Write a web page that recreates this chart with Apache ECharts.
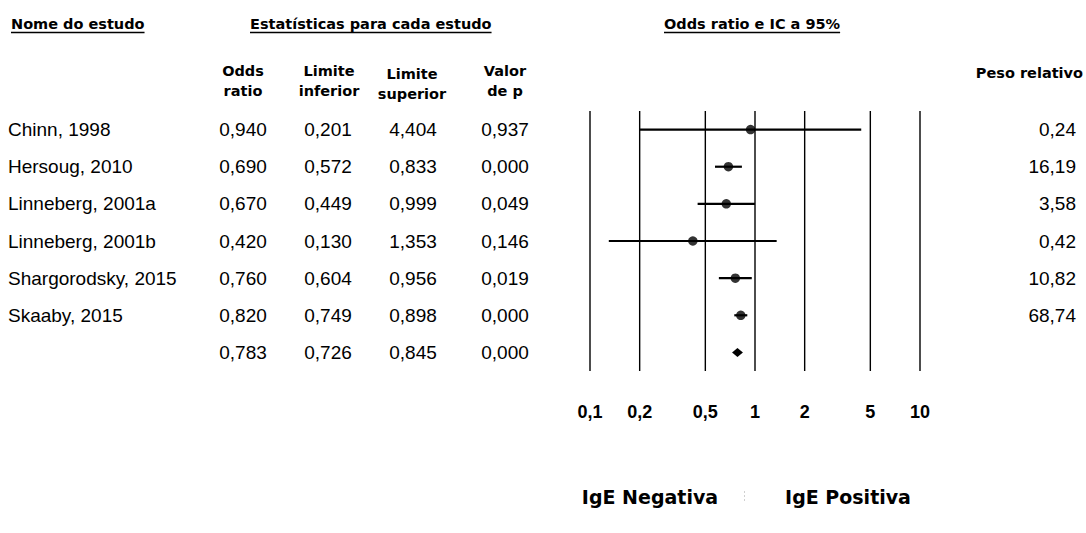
<!DOCTYPE html>
<html><head><meta charset="utf-8">
<script src="https://cdn.jsdelivr.net/npm/echarts@6/dist/echarts.min.js"></script>
<style>html,body{margin:0;padding:0;background:#fff}#c{width:1086px;height:533px}</style>
</head><body><div id="c"></div>
<script>
// ---- data ----
const studies = ['Chinn, 1998','Hersoug, 2010','Linneberg, 2001a','Linneberg, 2001b','Shargorodsky, 2015','Skaaby, 2015'];
const oddsRatio  = [0.940, 0.690, 0.670, 0.420, 0.760, 0.820];
const lowerLimit = [0.201, 0.572, 0.449, 0.130, 0.604, 0.749];
const upperLimit = [4.404, 0.833, 0.999, 1.353, 0.956, 0.898];
const pValue     = [0.937, 0.000, 0.049, 0.146, 0.019, 0.000];
const relWeight  = [0.24, 16.19, 3.58, 0.42, 10.82, 68.74];
const summaryOR = 0.783, summaryLower = 0.726, summaryUpper = 0.845, summaryP = 0.000;
const summaryKey = 'Combinado';
const tickValues = [0.1, 0.2, 0.5, 1, 2, 5, 10];
const tickLabels = ['0,1', '0,2', '0,5', '1', '2', '5', '10'];

// ---- helpers ----
const rowKeys = studies.concat([summaryKey]);
const summaryRow = studies.length;
const fmt = (v, d) => v.toFixed(d).replace('.', ',');
const nameCol = studies.concat(['']);
const orCol = oddsRatio.concat([summaryOR]).map(v => fmt(v, 3));
const loCol = lowerLimit.concat([summaryLower]).map(v => fmt(v, 3));
const hiCol = upperLimit.concat([summaryUpper]).map(v => fmt(v, 3));
const pCol = pValue.concat([summaryP]).map(v => fmt(v, 3));
const wCol = relWeight.map(v => fmt(v, 2)).concat(['']);

const BODY = 'Liberation Sans, Arial, sans-serif';
const HEAD = 'DejaVu Sans, Verdana, sans-serif';
const GRID_L = 590, GRID_R = 920;

function colAxis(texts, offset, align, position) {
  return {
    type: 'category', data: rowKeys, inverse: true, gridIndex: 0,
    position: position || 'left', offset: offset,
    axisLine: {show: false}, axisTick: {show: false}, splitLine: {show: false},
    axisLabel: {show: true, interval: 0, hideOverlap: false, margin: 0, align: align,
      formatter: (v, i) => texts[i], color: '#000', fontFamily: BODY, fontSize: 19}
  };
}

const measure = (() => {
  const ctx = document.createElement('canvas').getContext('2d');
  return (text, font) => { ctx.font = font; return ctx.measureText(text).width; };
})();

const HSIZE = 14.5;
function header(text, x, y, underline) {
  const font = 'bold ' + HSIZE + 'px ' + HEAD;
  const els = [{type: 'text', x: x, y: y, style: {text: text, fill: '#000', font: font, verticalAlign: 'middle'}}];
  if (underline) {
    const w = measure(text, font);
    els.push({type: 'line', shape: {x1: x, y1: y + 8.5, x2: x + w, y2: y + 8.5}, style: {stroke: '#000', lineWidth: 1.5}});
  }
  return els;
}
function header2(lines, cx, y1, y2) {
  const font = 'bold ' + HSIZE + 'px ' + HEAD;
  return lines.map((t, k) => ({type: 'text', x: cx, y: k === 0 ? y1 : y2,
    style: {text: t, fill: '#000', font: font, align: 'center', verticalAlign: 'middle'}}));
}

const graphics = [].concat(
  header('Nome do estudo', 11, 24, true),
  header('Estatísticas para cada estudo', 250, 24, true),
  header('Odds ratio e IC a 95%', 664, 24, true),
  header2(['Odds', 'ratio'], 243, 71, 91),
  header2(['Limite', 'inferior'], 329, 71, 91),
  header2(['Limite', 'superior'], 412, 74, 94),
  header2(['Valor', 'de p'], 505, 71, 91),
  [{type: 'text', x: 1083, y: 73, style: {text: 'Peso relativo', fill: '#000',
     font: 'bold ' + HSIZE + 'px ' + HEAD, align: 'right', verticalAlign: 'middle'}}],
  [{type: 'text', x: 650, y: 497, style: {text: 'IgE Negativa', fill: '#000',
     font: 'bold 19px ' + HEAD, align: 'center', verticalAlign: 'middle'}},
   {type: 'text', x: 848, y: 497, style: {text: 'IgE Positiva', fill: '#000',
     font: 'bold 19px ' + HEAD, align: 'center', verticalAlign: 'middle'}},
   {type: 'line', shape: {x1: 744.5, y1: 491, x2: 744.5, y2: 503},
     style: {stroke: '#d0d0d0', lineWidth: 1, lineDash: [2, 2]}}]
);

const chart = echarts.init(document.getElementById('c'), null, {renderer: 'svg'});
chart.setOption({
  animation: false,
  backgroundColor: '#fff',
  grid: {left: GRID_L, right: 1086 - GRID_R, top: 111, bottom: 162, containLabel: false},
  xAxis: {
    type: 'log', logBase: 10, min: 0.1, max: 10,
    axisLine: {show: false}, axisTick: {show: false}, splitLine: {show: false},
    axisLabel: {show: true, customValues: tickValues, margin: 32,
      formatter: v => { const i = tickValues.findIndex(t => Math.abs(t - v) < 1e-9); return i >= 0 ? tickLabels[i] : ''; },
      color: '#000', fontFamily: BODY, fontWeight: 'bold', fontSize: 18}
  },
  yAxis: [
    colAxis(nameCol, GRID_L - 8, 'left'),
    colAxis(orCol, GRID_L - 243, 'center'),
    colAxis(loCol, GRID_L - 328, 'center'),
    colAxis(hiCol, GRID_L - 413, 'center'),
    colAxis(pCol, GRID_L - 505, 'center'),
    colAxis(wCol, 1076 - GRID_R, 'right', 'right')
  ],
  graphic: graphics,
  series: [
    {
      // vertical reference lines at the tick values
      type: 'custom', xAxisIndex: 0, yAxisIndex: 0, silent: true,
      data: tickValues.map(v => [v, 0]),
      encode: {x: 0, y: 1},
      renderItem: (params, api) => {
        const p = api.coord([api.value(0), 0]);
        const cs = params.coordSys;
        return {type: 'line', shape: {x1: p[0], y1: cs.y, x2: p[0], y2: cs.y + cs.height},
          style: {stroke: '#000', lineWidth: 1.4}};
      }
    },
    {
      type: 'custom', xAxisIndex: 0, yAxisIndex: 0, silent: true,
      data: studies.map((s, i) => [i, lowerLimit[i], upperLimit[i]]),
      encode: {y: 0, x: [1, 2]},
      renderItem: (params, api) => {
        const y = api.value(0);
        const a = api.coord([api.value(1), y]);
        const b = api.coord([api.value(2), y]);
        return {type: 'line', shape: {x1: a[0], y1: a[1], x2: b[0], y2: b[1]},
          style: {stroke: '#000', lineWidth: 2.2}};
      }
    },
    {
      type: 'scatter', xAxisIndex: 0, yAxisIndex: 0, silent: true,
      symbol: 'circle', symbolSize: 9.5, itemStyle: {color: '#000'},
      data: studies.map((s, i) => [oddsRatio[i], i])
    },
    {
      type: 'custom', xAxisIndex: 0, yAxisIndex: 0, silent: true,
      data: [[summaryRow, summaryLower, summaryUpper, summaryOR]],
      encode: {y: 0, x: [1, 2, 3]},
      renderItem: (params, api) => {
        const y = api.value(0);
        const a = api.coord([api.value(1), y]);
        const b = api.coord([api.value(2), y]);
        const c = api.coord([api.value(3), y]);
        return {type: 'polygon', shape: {points: [[a[0], a[1]], [c[0], c[1] - 4.5], [b[0], b[1]], [c[0], c[1] + 4.5]]},
          style: {fill: '#000'}};
      }
    }
  ]
});
</script></body></html>
